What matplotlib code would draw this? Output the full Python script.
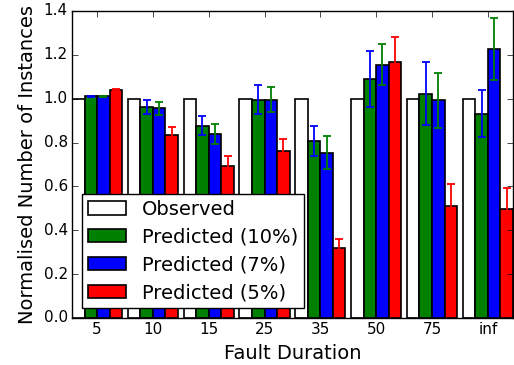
import numpy as np
import matplotlib
matplotlib.use("Agg")
import matplotlib.pyplot as plt

plt.style.use("classic")

# Fault durations (x categories)
durations = ["5", "10", "15", "25", "35", "50", "75", "inf"]

# Normalised number of instances
observed = [1.0, 1.0, 1.0, 1.0, 1.0, 1.0, 1.0, 1.0]
pred10 = [1.01, 0.962, 0.877, 0.995, 0.807, 1.09, 1.023, 0.932]
pred7 = [1.01, 0.957, 0.840, 0.995, 0.753, 1.155, 0.992, 1.227]
pred5 = [1.04, 0.836, 0.695, 0.763, 0.321, 1.166, 0.510, 0.496]

# error bar half-widths
err10 = [0.004, 0.030, 0.044, 0.065, 0.068, 0.126, 0.145, 0.108]
err7 = [0.004, 0.030, 0.046, 0.057, 0.076, 0.093, 0.125, 0.143]
err5 = [0.003, 0.035, 0.042, 0.053, 0.041, 0.117, 0.103, 0.095]

ind = np.arange(len(durations))
w = 0.225

fig = plt.figure(figsize=(5.14, 3.65), dpi=100, facecolor="white")
ax = fig.add_axes([0.140, 0.129, 0.858, 0.841])

ax.bar(ind, observed, w, color="white", align="edge", label="Observed", linewidth=1.2)
ax.bar(ind + w, pred10, w, color="g", align="edge", label="Predicted (10%)", linewidth=1.2)
ax.bar(ind + 2 * w, pred7, w, color="b", align="edge", label="Predicted (7%)", linewidth=1.2)
ax.bar(ind + 3 * w, pred5, w, color="r", align="edge", label="Predicted (5%)", linewidth=1.2)

# error bars (colours as in the original figure)
ax.errorbar(ind + 1.5 * w, pred10, yerr=err10, fmt="none", ecolor="b",
            capsize=3, elinewidth=1.3, capthick=1.3)
ax.errorbar(ind + 2.5 * w, pred7, yerr=err7, fmt="none", ecolor="g",
            capsize=3, elinewidth=1.3, capthick=1.3)
ax.errorbar(ind + 3.5 * w, pred5, yerr=err5, fmt="none", ecolor="r",
            capsize=3, elinewidth=1.3, capthick=1.3)

ax.set_xlim(0, 7.9)
ax.set_ylim(0, 1.4)
ax.set_xticks(ind + 2 * w)
ax.set_xticklabels(durations)
ax.tick_params(labelsize=11, pad=3)
ax.set_xlabel("Fault Duration", fontsize=14)
ax.set_ylabel("Normalised Number of Instances", fontsize=14)
ax.legend(loc="lower left", fontsize=14, borderpad=0.3, labelspacing=0.46)

fig.savefig("out.png", dpi=100, facecolor="white")
